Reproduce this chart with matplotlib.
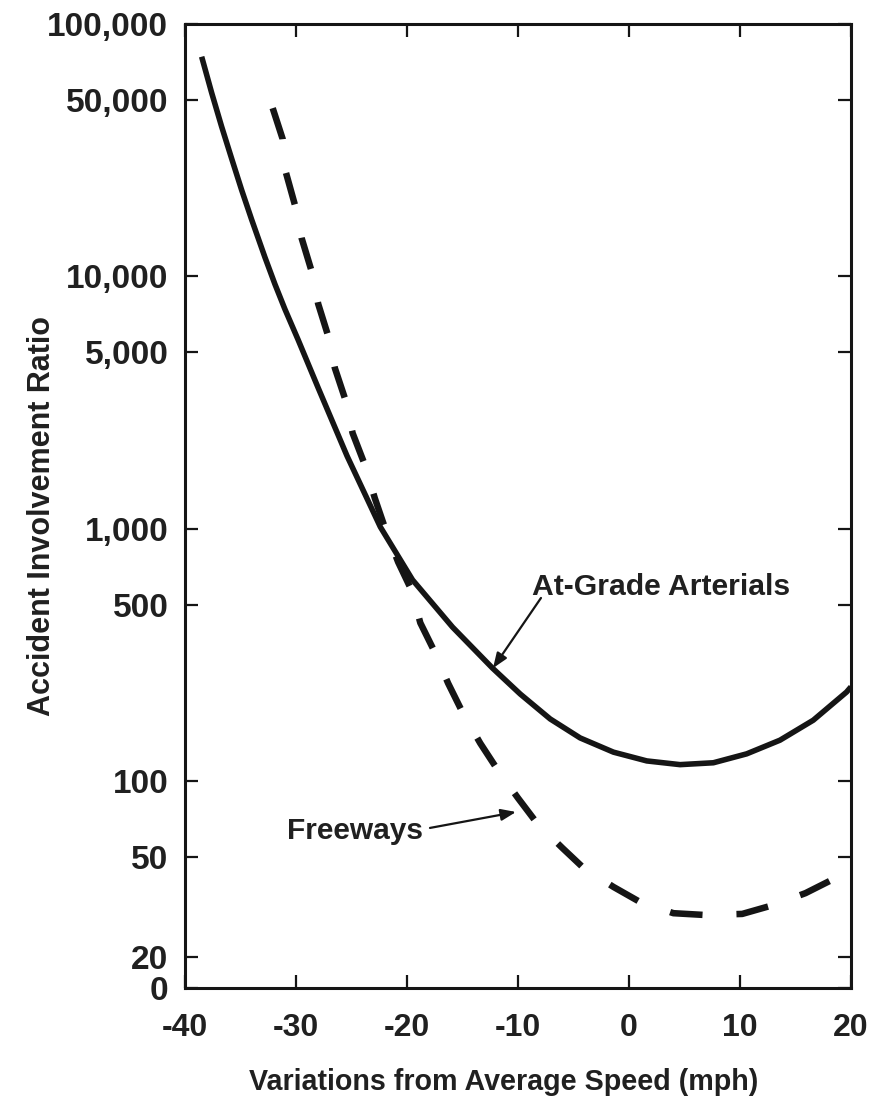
import numpy as np
import matplotlib
matplotlib.use("Agg")
import matplotlib.pyplot as plt
from matplotlib.ticker import FixedLocator, FixedFormatter, NullLocator

plt.rcParams['font.family'] = ['Liberation Sans', 'DejaVu Sans']
plt.rcParams['font.weight'] = 'bold'

# speed variation (mph) vs accident involvement ratio
arterial_x = [-38.5, -37.6, -36.7, -35.8, -34.9, -34.0, -32.8, -31.9, -31.0, -29.8,
              -28.0, -25.4, -22.4, -19.5, -15.9, -12.3, -9.8, -7.1, -4.4, -1.4,
              1.6, 4.6, 7.6, 10.6, 13.6, 16.6, 19.6, 20.0]
arterial_y = [74200, 53400, 39200, 29300, 22000, 16800, 11900, 9310, 7410, 5590,
              3610, 1940, 1015, 626, 407, 280, 221, 176, 148, 130,
              120, 116, 118, 128, 145, 174, 225, 236]

freeway_x = [-32.1, -31.2, -30.9, -30.1, -29.5, -28.6, -28.0, -27.1, -26.5, -25.6,
             -24.9, -23.8, -22.9, -22.0, -20.8, -19.6, -18.8, -17.5, -16.3, -15.0,
             -13.4, -11.8, -10.0, -8.3, -6.0, -4.1, -1.4, 1.0, 4.0, 6.9,
             10.2, 13.0, 15.9, 18.6]
freeway_y = [46400, 35000, 25700, 19200, 14200, 10500, 7770, 5800, 4330, 3290,
             2390, 1790, 1320, 1010, 737, 571, 423, 324, 244, 187,
             141, 110, 85.5, 68.1, 54.2, 45.2, 38.0, 33.1, 29.9, 29.4,
             29.7, 32.2, 35.9, 41.2]

x_ticks = [-40, -30, -20, -10, 0, 10, 20]
x_labels = ['-40', '-30', '-20', '-10', '0', '10', '20']
y_bottom = 10 ** (5 - 964 / 252.3)
y_ticks = [y_bottom, 20, 50, 100, 500, 1000, 5000, 10000, 50000, 100000]
y_labels = ['0', '20', '50', '100', '500', '1,000', '5,000', '10,000', '50,000', '100,000']

ink = '#151515'
txt = '#202020'

fig = plt.figure(figsize=(8.69, 11.02), dpi=100)
ax = fig.add_axes([185 / 869, 1 - 988 / 1102, 666 / 869, 964 / 1102])

ax.plot(arterial_x, arterial_y, color=ink, lw=4.0, solid_capstyle='butt',
        solid_joinstyle='round')
ax.plot(freeway_x, freeway_y, color=ink, lw=4.7, linestyle=(0, (5.0, 5.2)),
        dash_capstyle='butt')

ax.set_yscale('log')
ax.set_xlim(-40, 20)
ax.set_ylim(y_bottom, 100000)

ax.xaxis.set_major_locator(FixedLocator(x_ticks))
ax.xaxis.set_major_formatter(FixedFormatter(x_labels))
ax.yaxis.set_major_locator(FixedLocator(y_ticks))
ax.yaxis.set_major_formatter(FixedFormatter(y_labels))
ax.yaxis.set_minor_locator(NullLocator())

ax.tick_params(which='major', direction='in', length=9.5, width=1.6, color=ink,
               top=True, right=True, labelcolor=txt)
ax.tick_params(axis='x', pad=18, labelsize=23)
ax.tick_params(axis='y', pad=12, labelsize=24)
for s in ax.spines.values():
    s.set_linewidth(2.2)
    s.set_color(ink)

# annotations with arrows
arrow = dict(arrowstyle='-|>,head_length=0.9,head_width=0.35',
             color=ink, lw=1.6, shrinkA=0, shrinkB=0)
ax.text(-8.74, 546, 'At-Grade Arterials', fontsize=21.7, color=txt,
        ha='left', va='baseline')
ax.annotate('', xy=(-12.25, 280), xytext=(-7.93, 531), arrowprops=arrow)
ax.text(-30.81, 58.8, 'Freeways', fontsize=21.5, color=txt,
        ha='left', va='baseline')
ax.annotate('', xy=(-10.18, 75.3), xytext=(-17.93, 65.1), arrowprops=arrow)

fig.text(503.5 / 869, 1 - 1090 / 1102, 'Variations from Average Speed (mph)',
         fontsize=20.6, color=txt, ha='center', va='baseline')
fig.text(50 / 869, 1 - 516 / 1102, 'Accident Involvement Ratio', fontsize=22,
         color=txt, rotation=90, rotation_mode='anchor',
         ha='center', va='baseline')

fig.savefig('out.png', dpi=100)
